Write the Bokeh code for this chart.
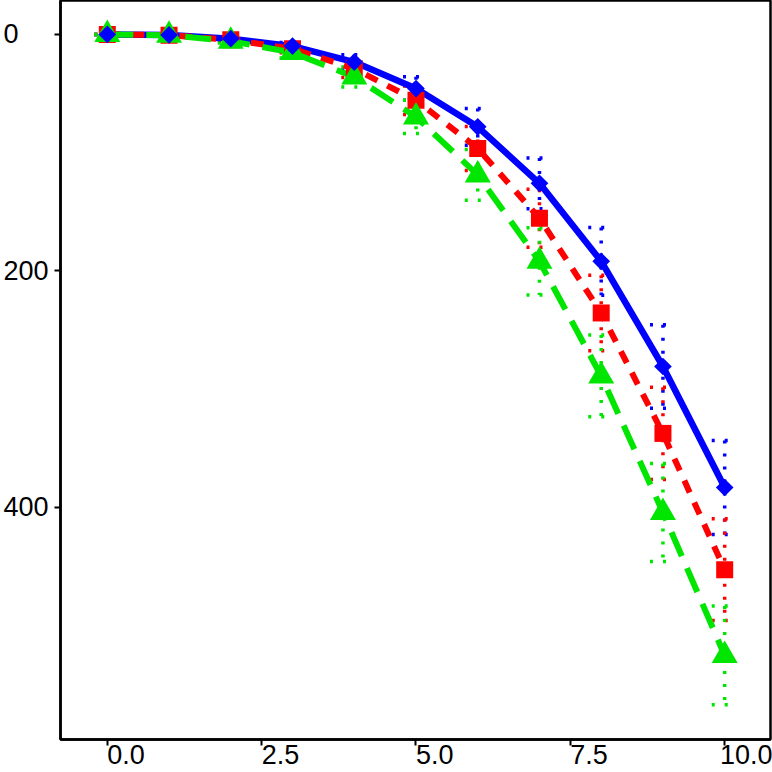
import numpy as np
from bokeh.plotting import figure
from bokeh.models import Range1d, FixedTicker
from bokeh.embed import file_html
from bokeh.resources import INLINE

# ---- data ----
x_vals = [0, 1, 2, 3, 4, 5, 6, 7, 8, 9, 10]
blue_vals = [0, 0.4, 3.6, 9.9, 23.4, 45.8, 78.2, 126.0, 192.0, 281.0, 383.4]
blue_err = [0, 0.5, 1.0, 3.0, 6.3, 10.0, 15.6, 21.5, 28.7, 35.3, 39.7]
red_vals = [0, 0.6, 4.5, 12.1, 29.0, 55.7, 96.5, 155.5, 235.7, 337.6, 452.9]
red_err = [0, 0.6, 1.3, 3.5, 7.5, 12.0, 18.6, 24.5, 32.0, 39.0, 43.0]
green_vals = [0, 0.7, 5.7, 15.4, 36.0, 69.8, 118.9, 192.0, 289.0, 404.5, 525.5]
green_err = [0, 0.7, 1.6, 4.5, 8.4, 14.0, 21.5, 28.4, 34.6, 41.4, 41.8]
x_ticks = [0, 2.5, 5, 7.5, 10]
x_tick_labels = ["0.0", "2.5", "5.0", "7.5", "10.0"]
y_ticks = [0, 200, 400]
y_tick_labels = ["0", "200", "400"]

BLUE = "#0000ff"
RED = "#ff0000"
GREEN = "#00e600"

NB = "\u00a0"

W, H = 772, 772
p = figure(width=W, height=H, output_backend="svg", toolbar_location=None,
           x_range=Range1d(-0.758, 10.742), y_range=Range1d(596.6, -28.7),
           min_border_left=57, min_border_right=2, min_border_top=0, min_border_bottom=31)
p.xgrid.visible = False
p.ygrid.visible = False
p.outline_line_color = "black"
p.outline_line_width = 2.5
p.background_fill_color = "white"
p.border_fill_color = "white"

for ax in (p.xaxis[0], p.yaxis[0]):
    ax.axis_line_color = "black"
    ax.axis_line_width = 2.5
    ax.major_tick_line_color = "black"
    ax.major_tick_line_width = 2
    ax.major_tick_out = 6
    ax.major_tick_in = 0
    ax.minor_tick_line_color = None
    ax.major_label_text_font = "Liberation Sans"
    ax.major_label_text_font_size = "27px"
    ax.major_label_text_color = "black"

# x labels start at their tick (left aligned look): pad on the left
p.xaxis.ticker = FixedTicker(ticks=x_ticks)
p.xaxis.major_label_overrides = {
    t: NB * (2 * len(lab) - lab.count(".")) + lab for t, lab in zip(x_ticks, x_tick_labels)
}
p.xaxis.major_label_standoff = -6

# y labels start at the left edge (left aligned look): pad on the right
p.yaxis.ticker = FixedTicker(ticks=y_ticks)
maxlen = max(len(s) for s in y_tick_labels)
p.yaxis.major_label_overrides = {
    t: lab + NB * (2 * (maxlen - len(lab))) for t, lab in zip(y_ticks, y_tick_labels)
}
p.yaxis.major_label_standoff = 6

cap = 0.21
series = [
    (blue_vals, blue_err, BLUE),
    (red_vals, red_err, RED),
    (green_vals, green_err, GREEN),
]
# error bars (dotted)
for vals, err, col in series:
    xs = np.array(x_vals, dtype=float)
    v = np.array(vals)
    e = np.array(err)
    p.segment(xs, v - e, xs, v + e, line_color=col, line_width=3.5, line_dash="3 10")
    for yy in (v - e, v + e):
        p.segment(xs - cap, yy, xs + cap, yy, line_color=col, line_width=3.5, line_dash="3 10")

# lines
p.line(x_vals, blue_vals, line_color=BLUE, line_width=6.5)
p.line(x_vals, red_vals, line_color=RED, line_width=6, line_dash="13 11")
p.line(x_vals, green_vals, line_color=GREEN, line_width=6, line_dash="26 13")

# points
p.scatter(x_vals, red_vals, marker="square", size=17, fill_color=RED, line_color=None)
p.scatter(x_vals, green_vals, marker="triangle", size=26, fill_color=GREEN, line_color=None)
p.scatter(x_vals, blue_vals, marker="square", size=12.5, angle=np.pi / 4,
          fill_color=BLUE, line_color=None)

open("out.html", "w").write(file_html(p, INLINE))
